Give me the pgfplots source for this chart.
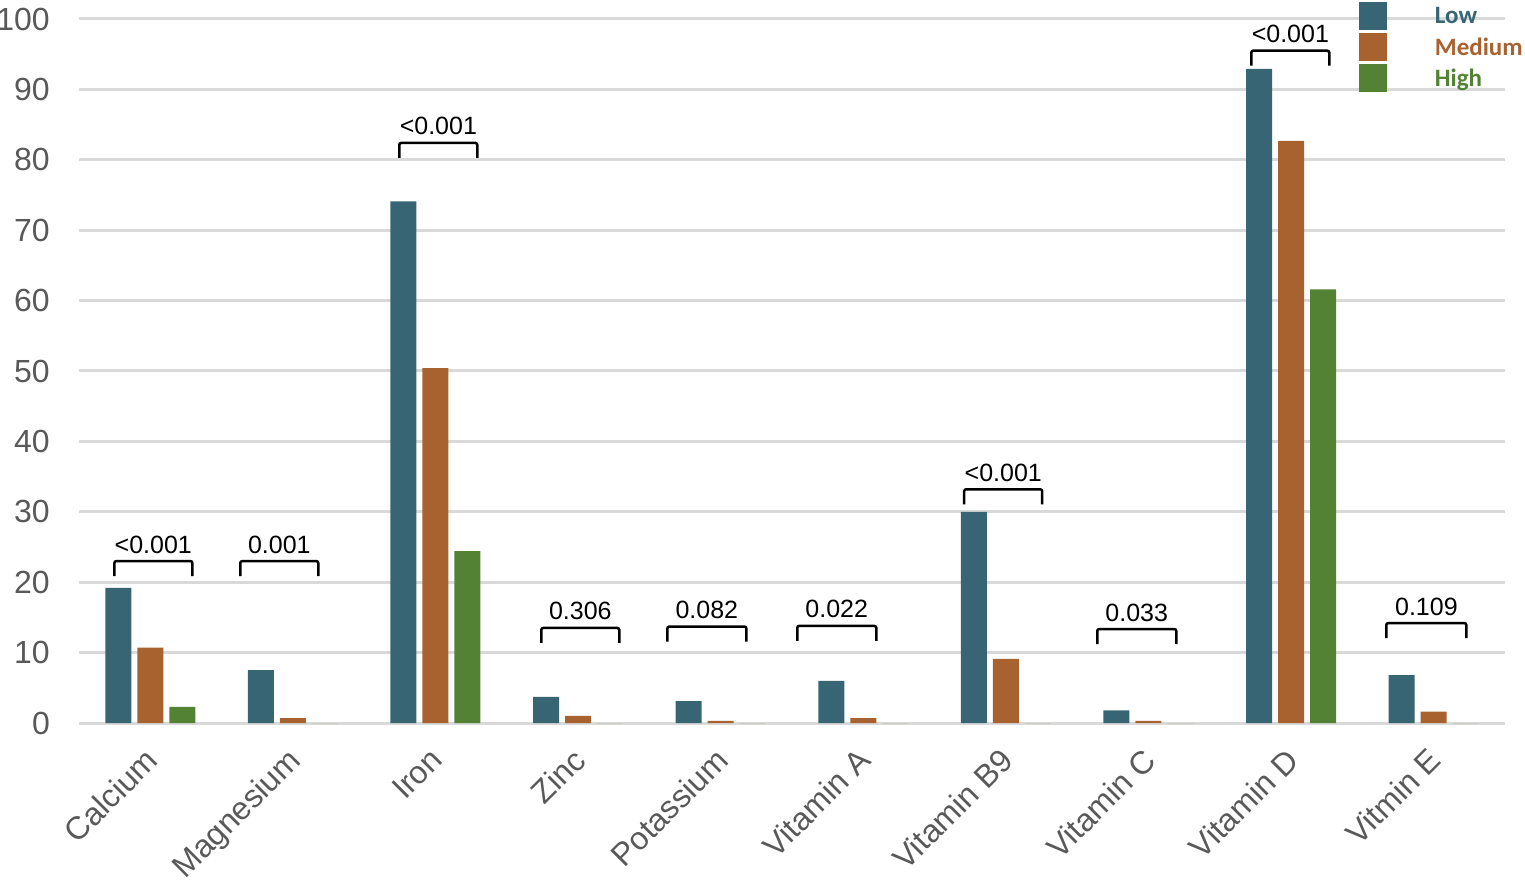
\documentclass[border=0pt]{standalone}
\usepackage{pgfplots}
\pgfplotsset{compat=1.18}
\usepackage{pgfplotstable}
\usepackage{fontspec}
\setmainfont{Liberation Sans}
\newfontfamily\legfont{Carlito}
\definecolor{lowc}{RGB}{55,101,115}
\definecolor{medc}{RGB}{168,98,48}
\definecolor{highc}{RGB}{84,130,53}
\definecolor{gridc}{RGB}{217,217,217}
\definecolor{tickc}{RGB}{89,89,89}

\pgfplotstableread{
x low med high
0 19.2 10.7 2.3
1 7.5 0.7 0
2 74.1 50.4 24.4
3 3.7 1.0 0
4 3.1 0.3 0
5 6.0 0.7 0
6 30.0 9.1 0
7 1.8 0.3 0
8 92.9 82.7 61.6
9 6.8 1.6 0
}\datatable

\newcommand\pbrack[5]{%
  \draw[line width=2.5pt, rounded corners=2pt]
    ([yshift=-15pt]axis cs:#1,#3) -- (axis cs:#1,#3) -- (axis cs:#2,#3) -- ([yshift=-15pt]axis cs:#2,#3);
  \node[anchor=base, inner sep=0pt, font=\fontsize{25}{29}\selectfont] at ([yshift=8pt]axis cs:#4,#3) {#5};
}

\begin{document}
\begin{tikzpicture}
\begin{axis}[
  name=ax, at={(0,0)}, anchor=south west,
  scale only axis, width=1426pt, height=704pt,
  ybar=6pt, bar width=26pt,
  xmin=-0.5, xmax=9.5, ymin=0, ymax=100,
  xtick=data,
  xticklabels={Calcium,Magnesium,Iron,Zinc,Potassium,Vitamin A,Vitamin B9,Vitamin C,Vitamin D,Vitmin E},
  ytick={0,10,...,100},
  /pgf/number format/assume math mode=true,
  major tick length=0pt,
  axis line style={draw=none},
  ymajorgrids, grid style={line width=3pt, gridc},
  yticklabel style={font=\fontsize{32}{36}\selectfont, text=tickc, anchor=east, inner sep=0pt, xshift=-29pt},
  xticklabel style={font=\fontsize{32}{36}\selectfont, text=tickc, xshift=-7pt, yshift=-23pt, rotate=45, anchor=north east, inner sep=0pt},
  legend style={at={(0.8976,1.0241)}, anchor=north west, draw=none, fill=none, inner sep=0pt, outer sep=0pt,
    row sep=3pt, column sep=0pt, font=\legfont\bfseries\fontsize{25}{28}\selectfont,
    nodes={inner sep=0pt}},
  legend cell align=left,
]
\addplot[fill=lowc, draw=none, legend image code/.code={\fill[lowc] (0pt,-14pt) rectangle (28pt,14pt); \path (76pt,0pt);}] table[x=x,y=low] {\datatable};
\addlegendentry{\textcolor{lowc}{Low}}
\addplot[fill=medc, draw=none, legend image code/.code={\fill[medc] (0pt,-14pt) rectangle (28pt,14pt); \path (76pt,0pt);}] table[x=x,y=med] {\datatable};
\addlegendentry{\textcolor{medc}{Medium}}
\addplot[fill=highc, draw=none, legend image code/.code={\fill[highc] (0pt,-14pt) rectangle (28pt,14pt); \path (76pt,0pt);}] table[x=x,y=high] {\datatable};
\addlegendentry{\textcolor{highc}{High}}

\pbrack{-0.252}{0.295}{23.0}{0.021}{<0.001}
\pbrack{0.631}{1.178}{23.0}{0.905}{0.001}
\pbrack{1.746}{2.293}{82.4}{2.020}{<0.001}
\pbrack{2.742}{3.289}{13.5}{3.016}{0.306}
\pbrack{3.626}{4.180}{13.7}{3.903}{0.082}
\pbrack{4.537}{5.091}{13.8}{4.814}{0.022}
\pbrack{5.708}{6.255}{33.2}{5.982}{<0.001}
\pbrack{6.641}{7.195}{13.35}{6.918}{0.033}
\pbrack{7.721}{8.268}{95.5}{7.995}{<0.001}
\pbrack{8.668}{9.229}{14.2}{8.949}{0.109}
\end{axis}
\pgfresetboundingbox
\path[use as bounding box] (-79pt,-160pt) rectangle (1446pt,723pt);
\end{tikzpicture}
\end{document}
